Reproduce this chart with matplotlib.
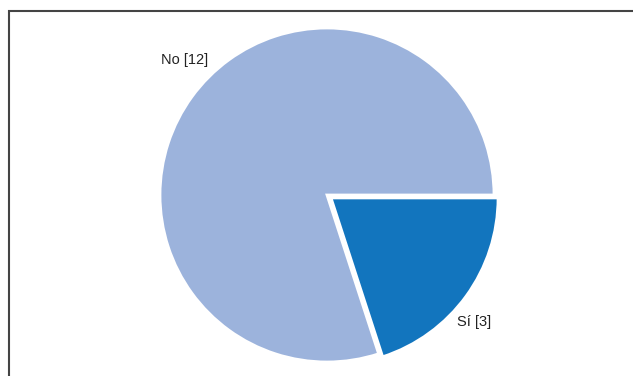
import matplotlib.pyplot as plt
from matplotlib.patches import Rectangle

# Respuestas
labels = ['No', 'Sí']
counts = [12, 3]
colors = ['#9CB3DC', '#1275BE']

W, H = 633, 376
fig = plt.figure(figsize=(W / 100, H / 100), dpi=100)

# pie centre and radius in pixels
cx, cy, r = 327, 376 - 195, 167
span = 1.25
side = 2 * span * r
ax = fig.add_axes([(cx - side / 2) / W, (cy - side / 2) / H, side / W, side / H])

wedges, texts = ax.pie(counts, colors=colors, startangle=0, counterclock=True,
                       explode=[0, 0.03], radius=1,
                       wedgeprops=dict(edgecolor='white', linewidth=2),
                       labels=[f'{l} [{c}]' for l, c in zip(labels, counts)],
                       textprops=dict(fontsize=10.5, family='Liberation Sans', color='#222222'))
# label positions
texts[0].set_position((-0.71, 0.81))
texts[0].set_ha('right')
texts[0].set_va('center')
texts[1].set_position((0.78, -0.76))
texts[1].set_ha('left')
texts[1].set_va('center')

ax.set_xlim(-span, span)
ax.set_ylim(-span, span)
ax.set_aspect('equal')
ax.axis('off')

# outer frame (only top and left edges fall inside the image)
fig.patches.append(Rectangle((9 / W, -0.1), 2, (H - 11) / H + 0.1,
                             transform=fig.transFigure, fill=False,
                             edgecolor='#444444', linewidth=1.5))

fig.savefig('out.png', dpi=100)
